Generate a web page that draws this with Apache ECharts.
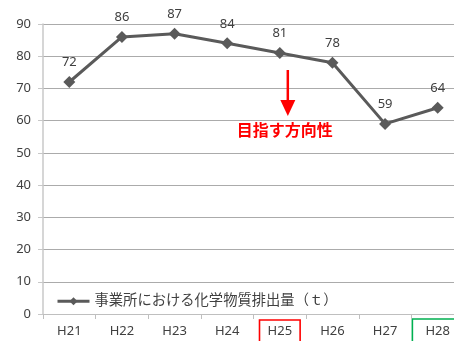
<!DOCTYPE html>
<html>
<head>
<meta charset="utf-8">
<script src="https://cdn.jsdelivr.net/npm/echarts@6/dist/echarts.min.js"></script>
<style>
  html, body { margin: 0; padding: 0; background: #fff; overflow: hidden; }
  /* the plot area continues past the right edge of the window, so the last band is cut off */
  #chart { width: 464px; height: 341px; }
</style>
</head>
<body>
<div id="chart"></div>
<script>
// Fiscal years (Heisei) and emissions of chemical substances from business sites (t)
const years = ['H21', 'H22', 'H23', 'H24', 'H25', 'H26', 'H27', 'H28'];
const emissions = [72, 86, 87, 84, 81, 78, 59, 64];
const yTicks = [0, 10, 20, 30, 40, 50, 60, 70, 80, 90];
const seriesName = '事業所における化学物質排出量（ｔ）';
const directionText = '目指す方向性';
const baseYear = 'H25';
const latestYear = 'H28';

const FONT = '"Noto Sans", "Noto Sans CJK JP", sans-serif';
const chart = echarts.init(document.getElementById('chart'));

chart.setOption({
  animation: false,
  backgroundColor: '#ffffff',
  textStyle: { fontFamily: FONT },
  grid: { left: 43, top: 24, height: 290, right: 0, containLabel: false },
  legend: {
    left: 51, top: 289,
    itemWidth: 32, itemHeight: 10, itemGap: 4,
    data: [seriesName],
    lineStyle: { width: 3, color: '#5a5a5a' },
    itemStyle: { color: '#5a5a5a' },
    textStyle: { fontFamily: FONT, fontSize: 14.3, color: '#404040' }
  },
  xAxis: {
    type: 'category',
    data: years,
    boundaryGap: true,
    axisLine: { lineStyle: { color: '#bfbfbf', width: 1 } },
    axisTick: { show: true, length: 5, lineStyle: { color: '#bfbfbf' } },
    axisLabel: { color: '#404040', fontSize: 13, margin: 11, fontFamily: FONT }
  },
  yAxis: {
    type: 'value',
    min: yTicks[0], max: yTicks[yTicks.length - 1], interval: 10,
    axisLine: { show: true, lineStyle: { color: '#c8c8c8', width: 1.5 } },
    axisTick: { show: true, length: 5, lineStyle: { color: '#c8c8c8' } },
    axisLabel: { color: '#404040', fontSize: 13, margin: 12, fontFamily: FONT },
    splitLine: { show: true, lineStyle: { color: '#ababab', width: 1 } }
  },
  series: [{
    name: seriesName,
    type: 'line',
    data: emissions,
    symbol: 'diamond',
    symbolSize: 12,
    lineStyle: { color: '#5a5a5a', width: 3 },
    itemStyle: { color: '#5a5a5a' },
    label: {
      show: true, position: 'top', distance: 7,
      color: '#404040', fontSize: 13, fontFamily: FONT
    }
  }]
});

// Highlight boxes around the base year and the latest year labels, plus the target-direction arrow
function drawAnnotations() {
  const half = chart.getModel().getComponent('xAxis', 0).axis.getBandWidth() / 2;
  const yZero = chart.convertToPixel({ yAxisIndex: 0 }, 0);
  const xBase = chart.convertToPixel({ xAxisIndex: 0 }, baseYear);
  const xLatest = chart.convertToPixel({ xAxisIndex: 0 }, latestYear);
  chart.setOption({
    graphic: [
      {
        type: 'rect',
        shape: { x: xBase - half + 6, y: yZero + 6, width: 2 * half - 12, height: 60 },
        style: { fill: 'none', stroke: '#ff0000', lineWidth: 1.6 }
      },
      {
        type: 'rect',
        shape: { x: xLatest - half + 1, y: yZero + 5, width: 2 * half, height: 60 },
        style: { fill: 'none', stroke: '#00b050', lineWidth: 1.6 }
      },
      {
        type: 'line',
        shape: { x1: xBase + 8, y1: 70, x2: xBase + 8, y2: 102 },
        style: { stroke: '#ff0000', lineWidth: 2.5 }
      },
      {
        type: 'polygon',
        shape: { points: [[xBase + 0.5, 100], [xBase + 15.5, 100], [xBase + 8, 116]] },
        style: { fill: '#ff0000' }
      },
      {
        type: 'text',
        x: xBase + 5, y: 130,
        style: {
          text: directionText, fill: '#ff0000',
          font: 'bold 16px "Noto Sans CJK JP", sans-serif',
          align: 'center', verticalAlign: 'middle'
        }
      }
    ]
  });
}
drawAnnotations();
</script>
</body>
</html>
